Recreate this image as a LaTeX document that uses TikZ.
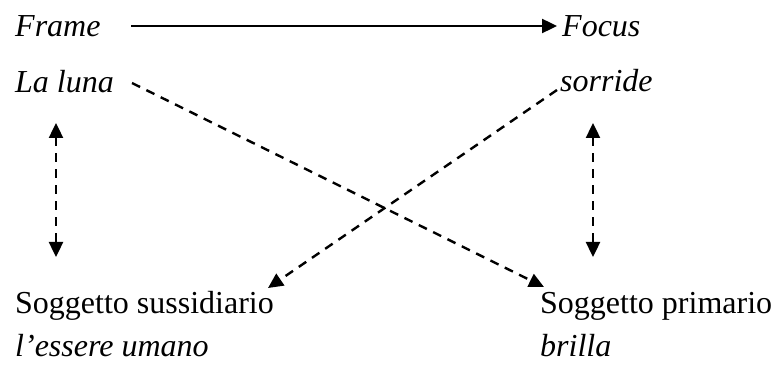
\documentclass[tikz,border=0pt]{standalone}
\usepackage{fontspec}
\setmainfont{Liberation Serif}
\usetikzlibrary{arrows.meta}
\tikzset{
  lbl/.style={anchor=base west, inner sep=0pt, font=\fontsize{32}{38}\selectfont},
  tip/.style={},
  conn/.style={line width=2.4pt, -{Triangle[length=15pt,width=14pt]}},
  dconn/.style={conn, dash pattern=on 9pt off 7pt},
  ddconn/.style={line width=2.4pt, dash pattern=on 9pt off 7pt, {Triangle[length=15pt,width=14pt]}-{Triangle[length=15pt,width=14pt]}}
}
\begin{document}
\begin{tikzpicture}[x=1pt,y=-1pt]
\useasboundingbox (0,0) rectangle (774,374);
\node[lbl] (frame) at (15,37) {\itshape Frame};
\node[lbl] (luna) at (15,93) {\itshape La luna};
\node[lbl] (focus) at (562,37) {\itshape Focus};
\node[lbl] (sorride) at (560,92) {\itshape sorride};
\node[lbl] (sussid) at (15,313) {Soggetto sussidiario};
\node[lbl] (umano) at (15,356) {\itshape l’essere umano};
\node[lbl] (primario) at (540,313) {Soggetto primario};
\node[lbl] (brilla) at (540,356) {\itshape brilla};
% connector ends
\coordinate (fA) at (131,26);
\coordinate (fB) at (557,26);
\coordinate (lA) at (132,83);
\coordinate (lB) at (544,287);
\coordinate (sA) at (557,90);
\coordinate (sB) at (268,288);
\coordinate (vlA) at (56,123);
\coordinate (vlB) at (56,257);
\coordinate (vrA) at (593,123);
\coordinate (vrB) at (593,257);
\draw[conn] (fA) -- (fB);
\draw[dconn] (lA) -- (lB);
\draw[dconn] (sA) -- (sB);
\draw[ddconn] (vlA) -- (vlB);
\draw[ddconn] (vrA) -- (vrB);
\end{tikzpicture}
\end{document}
